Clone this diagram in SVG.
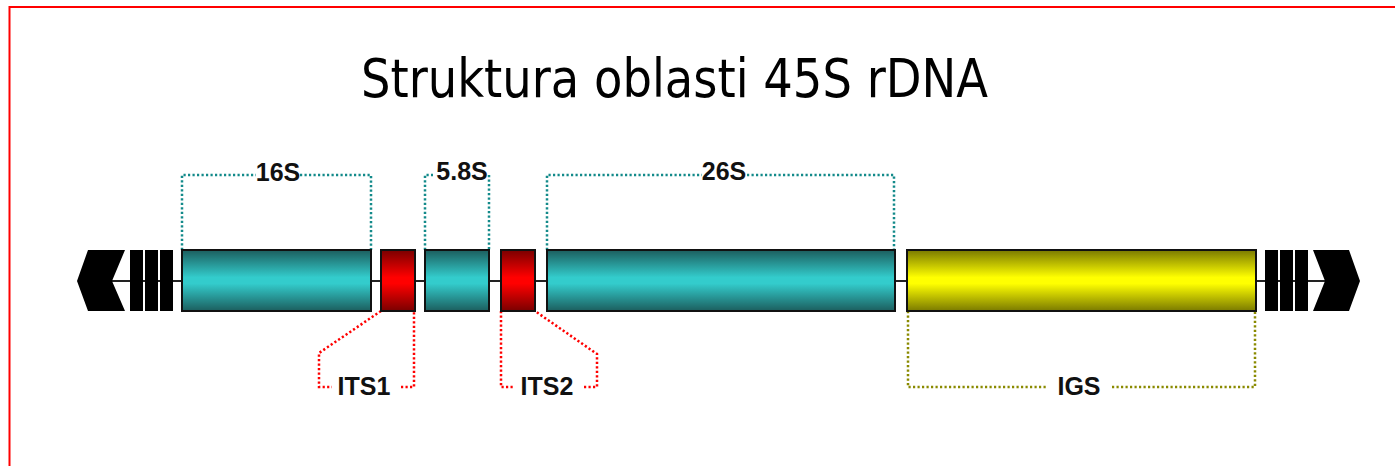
<svg xmlns="http://www.w3.org/2000/svg" width="1395" height="466" viewBox="0 0 1395 466">
<defs>
<linearGradient id="gTeal" x1="0" y1="0" x2="0" y2="1">
<stop offset="0" stop-color="#1c5e5e"/><stop offset="0.45" stop-color="#33cccc"/><stop offset="0.55" stop-color="#33cccc"/><stop offset="1" stop-color="#1c5e5e"/>
</linearGradient>
<linearGradient id="gRed" x1="0" y1="0" x2="0" y2="1">
<stop offset="0" stop-color="#7a0000"/><stop offset="0.45" stop-color="#ff0000"/><stop offset="0.55" stop-color="#ff0000"/><stop offset="1" stop-color="#7a0000"/>
</linearGradient>
<linearGradient id="gYel" x1="0" y1="0" x2="0" y2="1">
<stop offset="0" stop-color="#7a7a00"/><stop offset="0.45" stop-color="#ffff00"/><stop offset="0.55" stop-color="#ffff00"/><stop offset="1" stop-color="#7a7a00"/>
</linearGradient>
</defs>
<style>
.box{stroke:#111;stroke-width:2}
.teal{fill:url(#gTeal)}
.red{fill:url(#gRed)}
.yel{fill:url(#gYel)}
.blk{fill:#000}
.dot{fill:none;stroke-width:2.5;stroke-dasharray:2.2 2.3}
.dt{stroke:#138a8a}
.dr{stroke:#ff0000}
.dy{stroke:#8a8a00}
.lbl{font-family:"Liberation Sans",Arial,sans-serif;font-weight:bold;font-size:25px;fill:#111;text-anchor:middle}
.title{font-family:"DejaVu Sans Condensed","DejaVu Sans","Liberation Sans",sans-serif;font-stretch:condensed;font-size:53px;fill:#000}
</style>
<rect x="9.5" y="7" width="1400" height="480" fill="#fff" stroke="#ff0000" stroke-width="2"/>
<text class="title" x="361" y="97" textLength="627" lengthAdjust="spacingAndGlyphs">Struktura oblasti 45S rDNA</text>

<g id="connectors">
<line x1="112" y1="281" x2="1325" y2="281" stroke="#222" stroke-width="2"/>
<path class="dot dt" d="M182,250 V175 H256 M300,175 H371 V250"/>
<path class="dot dt" d="M425,250 V175 H433 M489,175 V250"/>
<path class="dot dt" d="M547,250 V175 H702 M747,175 H894 V250"/>
<path class="dot dr" d="M381,311 L319,353 V387 H332 M401,387 H414 V311"/>
<path class="dot dr" d="M501,311 V387 H513 M584,387 H597 V354 L535,311"/>
<path class="dot dy" d="M908,311 V387 H1048 M1112,387 H1255 V311"/>
</g>

<g id="left-end">
<polygon class="blk" points="77,281 88,250 125,250 112,281 125,311 88,311"/>
<rect class="blk" x="130" y="250" width="13" height="61"/>
<rect class="blk" x="145" y="250" width="13" height="61"/>
<rect class="blk" x="160" y="250" width="13" height="61"/>
</g>
<g id="n16S">
<rect class="box teal" x="182" y="250" width="189" height="61"/>
<text class="lbl" x="278" y="181">16S</text>
</g>
<g id="ITS1">
<rect class="box red" x="381" y="250" width="34" height="61"/>
<text class="lbl" x="364" y="395">ITS1</text>
</g>
<g id="n58S">
<rect class="box teal" x="425" y="250" width="64" height="61"/>
<text class="lbl" x="462" y="180">5.8S</text>
</g>
<g id="ITS2">
<rect class="box red" x="501" y="250" width="34" height="61"/>
<text class="lbl" x="547" y="395">ITS2</text>
</g>
<g id="n26S">
<rect class="box teal" x="547" y="250" width="348" height="61"/>
<text class="lbl" x="724" y="180">26S</text>
</g>
<g id="IGS">
<rect class="box yel" x="907" y="250" width="349" height="61"/>
<text class="lbl" x="1079" y="395">IGS</text>
</g>
<g id="right-end">
<rect class="blk" x="1265" y="250" width="13" height="61"/>
<rect class="blk" x="1280" y="250" width="13" height="61"/>
<rect class="blk" x="1295" y="250" width="13" height="61"/>
<polygon class="blk" points="1313,250 1349,250 1360,281 1349,311 1313,311 1325,281"/>
</g>
</svg>
